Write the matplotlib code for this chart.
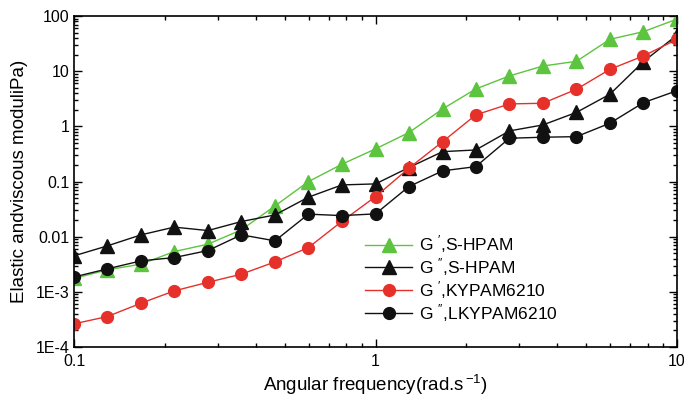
import matplotlib
matplotlib.use("Agg")
import matplotlib.pyplot as plt

plt.rcParams['font.family'] = ['Liberation Sans', 'DejaVu Sans']
plt.rcParams['mathtext.fontset'] = 'custom'
plt.rcParams['mathtext.rm'] = 'Liberation Sans'
plt.rcParams['mathtext.it'] = 'Liberation Sans'

# angular frequency (rad/s)
freq = [0.1, 0.129, 0.167, 0.215, 0.278, 0.359, 0.464, 0.599, 0.774, 1.0,
        1.29, 1.67, 2.15, 2.78, 3.59, 4.64, 5.99, 7.74, 10.0]

# G', S-HPAM
g1_shpam = [0.00175, 0.00251, 0.00318, 0.00537, 0.00731, 0.0133, 0.0361, 0.0995, 0.206, 0.39,
            0.77, 2.07, 4.76, 8.19, 12.4, 15.1, 37.8, 52.0, 88.0]
# G'', S-HPAM
g2_shpam = [0.00449, 0.00681, 0.0108, 0.0149, 0.0129, 0.0188, 0.0248, 0.052, 0.0867, 0.0905,
            0.179, 0.348, 0.373, 0.826, 1.06, 1.79, 3.82, 14.9, 45.2]
# G', KYPAM6210
g1_kypam = [0.000263, 0.000357, 0.000624, 0.00104, 0.00149, 0.00209, 0.00349, 0.00635, 0.019, 0.0532,
            0.174, 0.528, 1.61, 2.55, 2.62, 4.70, 10.8, 18.9, 37.8]
# G'', LKYPAM6210
g2_kypam = [0.00186, 0.00261, 0.00365, 0.00418, 0.0056, 0.0108, 0.0084, 0.0256, 0.0241, 0.0259,
            0.0809, 0.156, 0.186, 0.608, 0.635, 0.65, 1.14, 2.69, 4.43]

green = '#5dc43f'
red = '#e5312a'
black = '#111111'

fig = plt.figure(figsize=(6.84, 3.99), dpi=100)
ax = fig.add_axes([0.1082, 0.1303, 0.8816, 0.8296])

ax.plot(freq, g1_shpam, '-^', color=green, lw=1, ms=9.5, mec=green, label=r"G $^{\prime}$,S-HPAM")
ax.plot(freq, g2_shpam, '-^', color=black, lw=1, ms=9.5, mec=black, label=r"G $^{\prime\prime}$,S-HPAM")
ax.plot(freq, g1_kypam, '-o', color=red, lw=1, ms=8.5, mec=red, label=r"G $^{\prime}$,KYPAM6210")
ax.plot(freq, g2_kypam, '-o', color=black, lw=1, ms=8.5, mec=black, label=r"G $^{\prime\prime}$,LKYPAM6210")

ax.set_xscale('log')
ax.set_yscale('log')
ax.set_xlim(0.1, 10)
ax.set_ylim(1e-4, 100)

ax.set_xticks([0.1, 1, 10])
ax.set_xticklabels(['0.1', '1', '10'])
ax.set_yticks([1e-4, 1e-3, 0.01, 0.1, 1, 10, 100])
ax.set_yticklabels(['1E-4', '1E-3', '0.01', '0.1', '1', '10', '100'])

ax.tick_params(which='both', direction='in', top=True, right=True, labelsize=11.5, width=1)
ax.tick_params(which='major', length=6)
ax.tick_params(which='minor', length=3)
ax.tick_params(axis='x', pad=5)
for s in ax.spines.values():
    s.set_linewidth(1.2)

ax.set_xlabel(r"Angular frequency(rad.s$^{\,\mathrm{-1}}$)", fontsize=13.5, labelpad=3)
ax.set_ylabel("Elastic andviscous moduliPa)", fontsize=13.5, labelpad=5)

ax.legend(loc='upper left', bbox_to_anchor=(0.463, 0.38), frameon=False, fontsize=12.5,
          handlelength=2.7, handletextpad=0.4, labelspacing=0.05, borderpad=0.2)

fig.savefig('out.png', dpi=100)
